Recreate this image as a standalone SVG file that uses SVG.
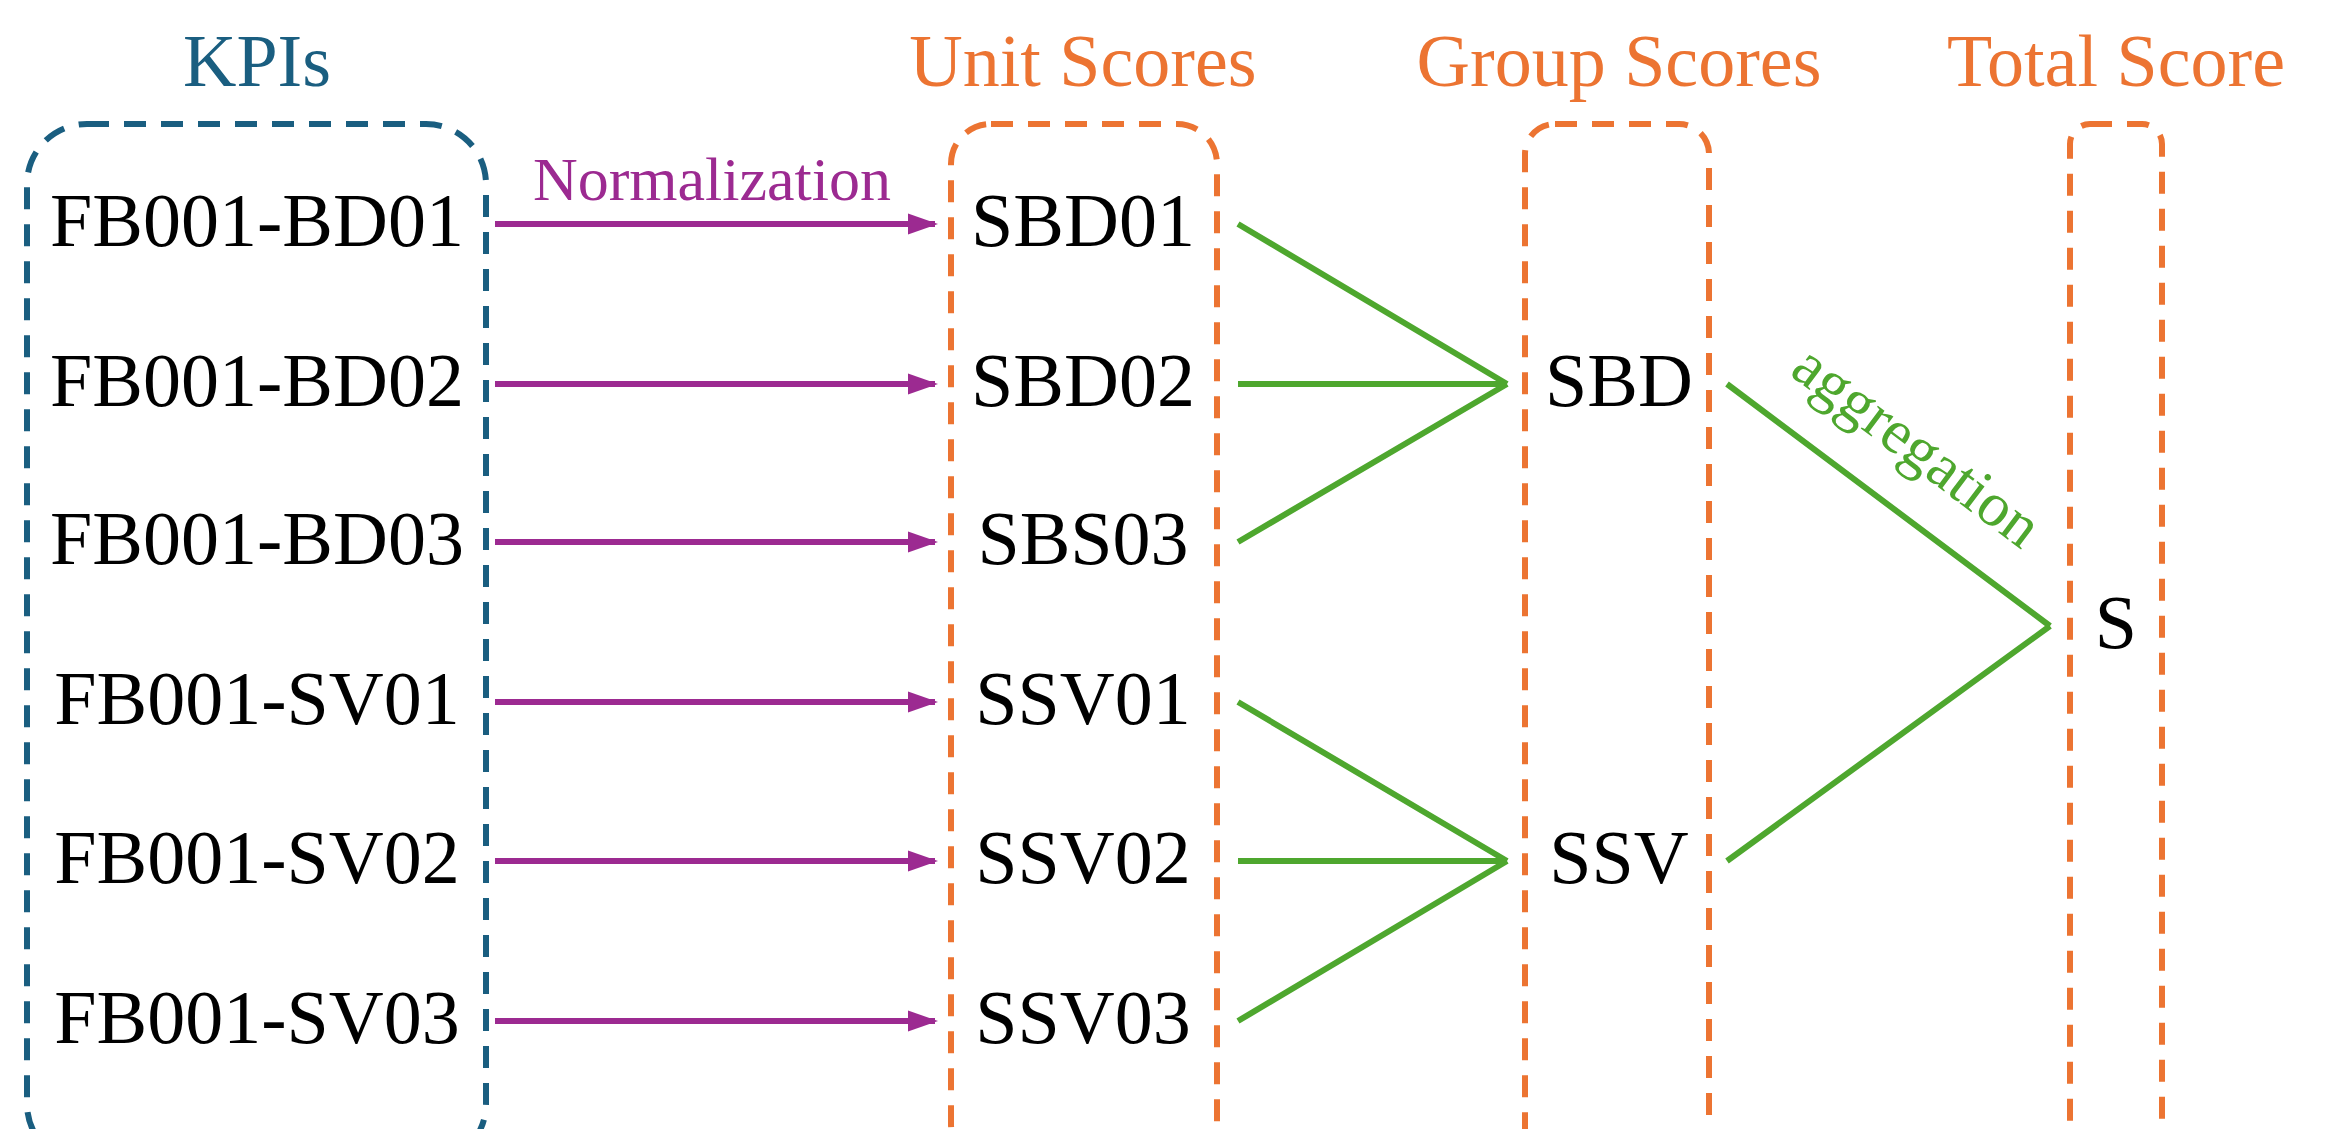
<svg xmlns="http://www.w3.org/2000/svg" width="2343" height="1129" viewBox="0 0 2343 1129">
<style>
text{font-family:"Liberation Serif","Times New Roman",serif;text-anchor:middle}
.t{font-size:76px;fill:#000}
.h{font-size:74px}
.box{fill:none;stroke-width:6;stroke-dasharray:22 15}
.bl{stroke:#1a5e80}.or{stroke:#ec7432}
.p{stroke:#9c2a91;stroke-width:6;fill:none}
.g{stroke:#4ea72e;stroke-width:6;fill:none}
</style>
<defs><marker id="a" viewBox="0 0 10 10" refX="9" refY="5" markerWidth="5" markerHeight="5" orient="auto" markerUnits="strokeWidth"><path d="M0,1.5L10,5L0,8.5z" fill="#9c2a91"/></marker></defs>
<rect width="2343" height="1129" fill="#fff"/>
<g id="kpis"><text class="h" x="257" y="86" fill="#1a5e80">KPIs</text><rect class="box bl" x="27" y="124" width="459" height="1040" rx="60"/>
<text class="t" x="257" y="246">FB001-BD01</text><text class="t" x="257" y="406">FB001-BD02</text><text class="t" x="257" y="564">FB001-BD03</text><text class="t" x="257" y="724">FB001-SV01</text><text class="t" x="257" y="883">FB001-SV02</text><text class="t" x="257" y="1043">FB001-SV03</text></g>
<g id="unit"><text class="h" x="1083" y="86" fill="#ec7432">Unit Scores</text><rect class="box or" x="951" y="124" width="266" height="1040" rx="40"/>
<text class="t" x="1083" y="246">SBD01</text><text class="t" x="1083" y="406">SBD02</text><text class="t" x="1083" y="564">SBS03</text><text class="t" x="1083" y="724">SSV01</text><text class="t" x="1083" y="883">SSV02</text><text class="t" x="1083" y="1043">SSV03</text></g>
<g id="group"><text class="h" x="1619" y="86" fill="#ec7432">Group Scores</text><rect class="box or" x="1525" y="124" width="184" height="1040" rx="30"/>
<text class="t" x="1619" y="406">SBD</text><text class="t" x="1619" y="883">SSV</text></g>
<g id="total"><text class="h" x="2116" y="86" fill="#ec7432">Total Score</text><rect class="box or" x="2070" y="124" width="92" height="1040" rx="20"/>
<text class="t" x="2116" y="648">S</text></g>
<g id="connectors">
<path class="p" marker-end="url(#a)" d="M495,224H935"/>
<path class="p" marker-end="url(#a)" d="M495,384H935"/>
<path class="p" marker-end="url(#a)" d="M495,542H935"/>
<path class="p" marker-end="url(#a)" d="M495,702H935"/>
<path class="p" marker-end="url(#a)" d="M495,861H935"/>
<path class="p" marker-end="url(#a)" d="M495,1021H935"/>
<text x="712" y="200" font-size="62" fill="#9c2a91">Normalization</text>
<path class="g" d="M1238,224L1507,384M1238,384H1507M1238,542L1507,384M1238,702L1507,861M1238,861H1507M1238,1021L1507,861M1727,384L2050,626M1727,861L2050,626"/>
<text x="1905" y="462" font-size="62" fill="#4ea72e" transform="rotate(37 1905 462)">aggregation</text>
</g>
</svg>
